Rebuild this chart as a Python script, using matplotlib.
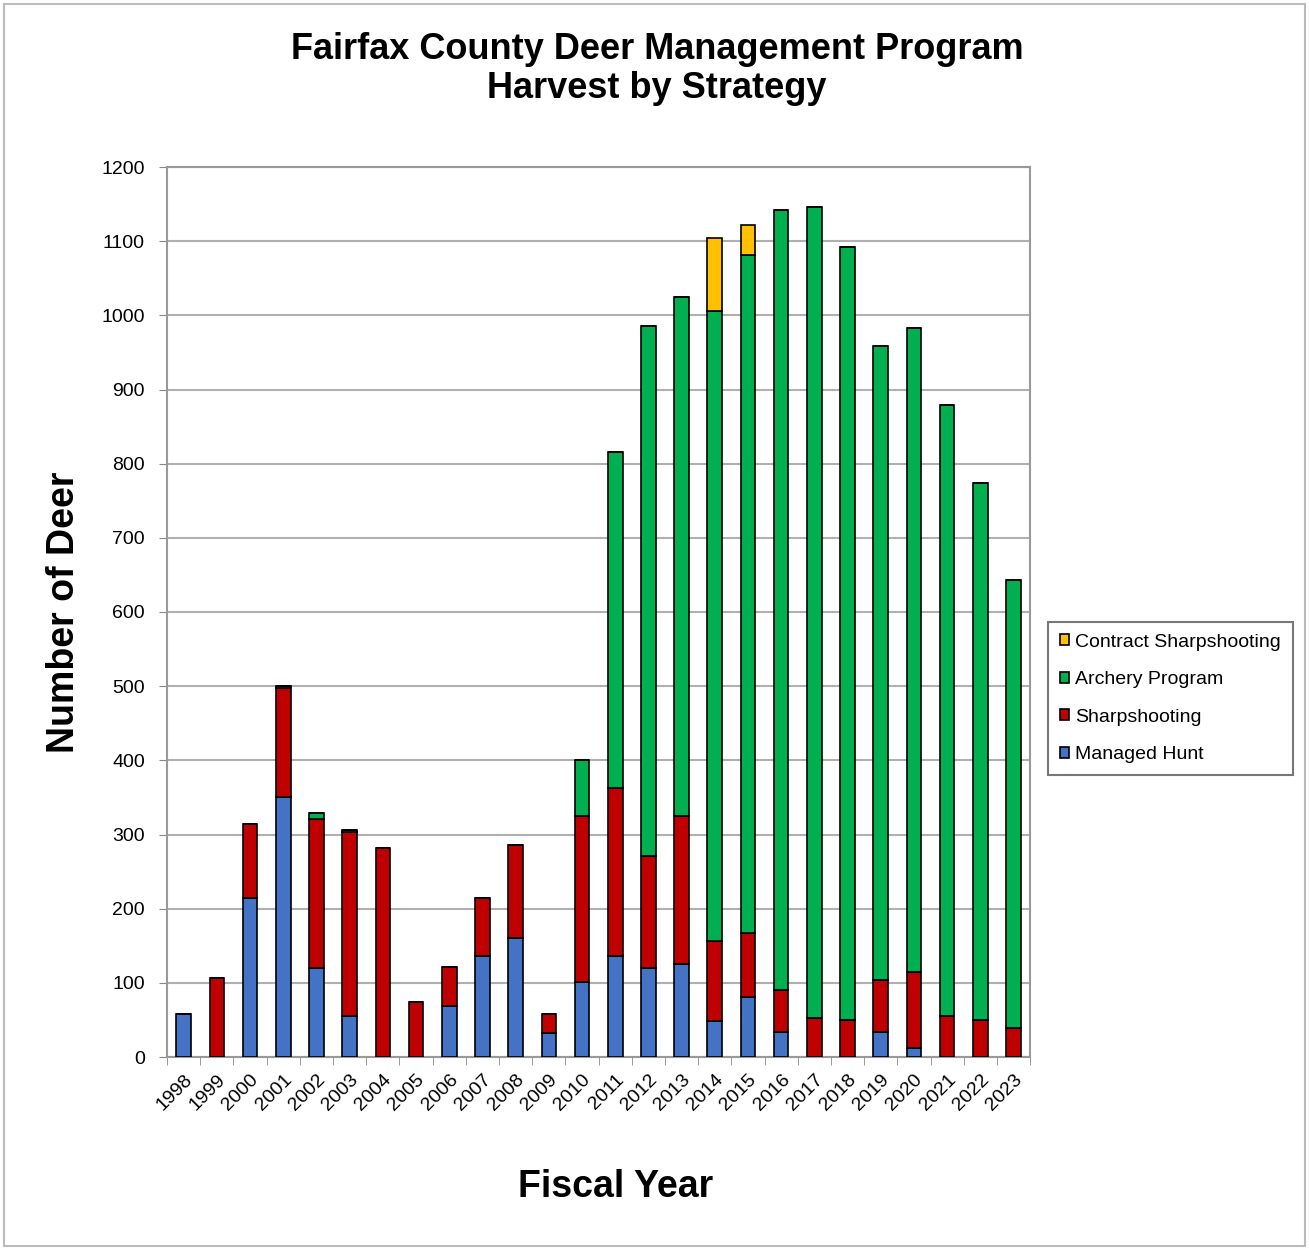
import matplotlib
matplotlib.use('Agg')
import matplotlib.pyplot as plt
import numpy as np
from matplotlib.patches import Rectangle

plt.rcParams['font.family'] = ['Liberation Sans', 'DejaVu Sans']

years = [str(y) for y in range(1998, 2024)]
managed_hunt = [58, 0, 214, 350, 120, 55, 0, 0, 69, 136, 160, 32, 101,
                136, 120, 125, 49, 81, 34, 0, 0, 34, 12, 0, 0, 0]
sharpshooting = [0, 106, 100, 147, 201, 248, 282, 74, 52, 78, 126, 26, 224,
                 227, 151, 200, 107, 86, 56, 53, 50, 70, 103, 55, 50, 39]
archery = [0, 0, 0, 3, 8, 3, 0, 0, 0, 0, 0, 0, 75,
           453, 715, 700, 850, 914, 1052, 1093, 1042, 855, 868, 824, 724, 604]
contract = [0, 0, 0, 0, 0, 0, 0, 0, 0, 0, 0, 0, 0,
            0, 0, 0, 98, 41, 0, 0, 0, 0, 0, 0, 0, 0]

series = [
    ('Managed Hunt', managed_hunt, '#4472C4'),
    ('Sharpshooting', sharpshooting, '#C00000'),
    ('Archery Program', archery, '#00B050'),
    ('Contract Sharpshooting', contract, '#FFC000'),
]

fig = plt.figure(figsize=(13.09, 12.5), dpi=100)
ax = fig.add_axes([0.1276, 0.1544, 0.6594, 0.712])

x = np.arange(len(years))
bottom = np.zeros(len(years))
handles = []
for name, vals, color in series:
    vals = np.array(vals)
    b = ax.bar(x, vals, 0.44, bottom=bottom, color=color, edgecolor='black',
               linewidth=1.2, label=name, zorder=3)
    handles.append(b)
    bottom += vals

ax.set_xlim(-0.5, len(years) - 0.5)
ax.set_ylim(0, 1200)
ax.set_yticks(range(0, 1201, 100))
ax.tick_params(axis='y', labelsize=14, length=6, pad=10, color='#888888')
ax.yaxis.grid(True, color='#b0b0b0', linewidth=1.5, zorder=0)

ax.set_xticks(x)
ax.set_xticklabels(years, rotation=45, ha='right', rotation_mode='anchor', fontsize=14)
ax.tick_params(axis='x', length=0, pad=10)
ax.set_xticks(np.arange(-0.5, len(years)), minor=True)
ax.tick_params(axis='x', which='minor', length=6, color='#888888')

for s in ax.spines.values():
    s.set_color('#999999')
    s.set_linewidth(1.5)

fig.text(0.502, 0.945, 'Fairfax County Deer Management Program\nHarvest by Strategy',
         fontsize=26, fontweight='bold', ha='center', va='center', linespacing=1.15)
ax.set_ylabel('Number of Deer', fontsize=27, fontweight='bold')
ax.yaxis.set_label_coords(-0.099, 0.5)
ax.set_xlabel('Fiscal Year', fontsize=27, fontweight='bold')
ax.xaxis.set_label_coords(0.52, -0.126)

leg = ax.legend(handles[::-1], [s[0] for s in series][::-1],
                loc='center left', bbox_to_anchor=(1.0205, 0.403),
                fontsize=14, frameon=True, fancybox=False, handlelength=0.5,
                handleheight=0.5, handletextpad=0.3, labelspacing=1.05,
                borderpad=0.6, borderaxespad=0, edgecolor='#555555')
leg.get_frame().set_linewidth(1.5)

fig.patches.append(Rectangle((0.003, 0.003), 0.994, 0.994, transform=fig.transFigure,
                             fill=False, edgecolor='#bbbbbb', linewidth=1.5))

fig.savefig('out.png', dpi=100)
